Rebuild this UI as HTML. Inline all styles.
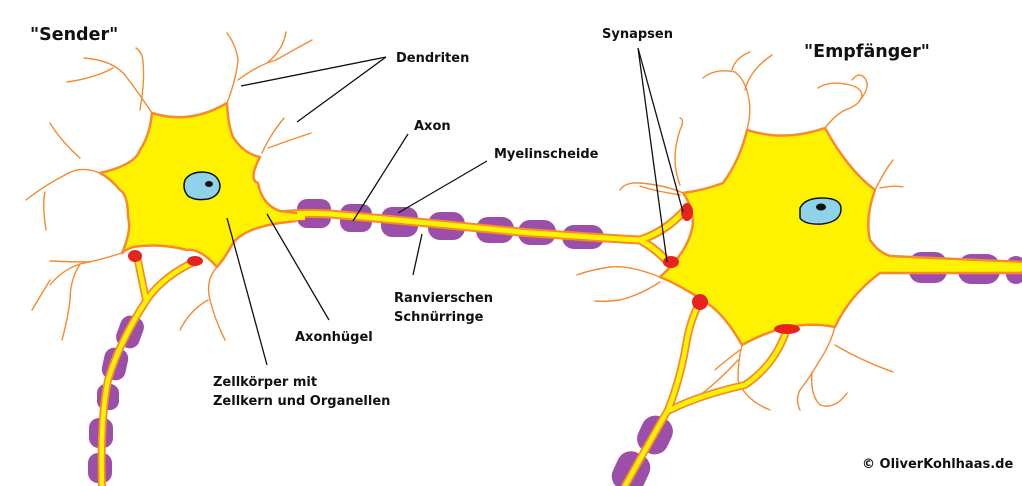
<!DOCTYPE html>
<html><head><meta charset="utf-8"><style>
html,body{margin:0;padding:0;background:#fff;}
svg{display:block}
text{font-family:"DejaVu Sans","Liberation Sans",sans-serif;fill:#111;}
.l{font-size:13px;font-weight:bold;}
.t{font-size:17.5px;font-weight:bold;}
</style></head><body>
<svg width="1022" height="486" viewBox="0 0 1022 486" xmlns="http://www.w3.org/2000/svg">
<g fill="none" stroke="#f58a2e" stroke-width="1.4" stroke-linecap="round">
<path d="M152 113 Q140 95 125 75 Q112 60 84 58"/><path d="M113 68 Q95 78 67 82"/>
<path d="M140 110 Q145 80 143 63 Q143 53 136 48"/>
<path d="M227 103 Q236 80 238 60 Q236 45 227 33"/><path d="M238 80 Q258 65 276 60 Q290 52 312 40"/><path d="M268 62 Q283 50 286 32"/>
<path d="M262 153 Q270 135 284 118"/><path d="M268 148 Q290 140 311 133"/>
<path d="M100 173 Q80 165 65 175 Q45 185 26 200"/><path d="M45 192 Q42 205 46 230"/>
<path d="M50 123 Q60 140 80 158"/>
<path d="M122 253 Q100 260 80 264 Q62 270 50 285"/><path d="M50 280 Q38 300 32 310"/><path d="M80 264 Q70 280 70 300 Q68 318 62 340"/><path d="M90 262 Q70 262 50 261"/>
<path d="M217 267 Q205 280 210 300 Q215 320 225 340"/><path d="M208 300 Q190 310 180 330"/>
<path d="M747 130 Q752 110 748 95 Q745 80 735 72"/><path d="M745 90 Q750 70 772 55"/><path d="M735 72 Q715 68 703 78"/><path d="M732 70 Q735 58 750 52"/>
<path d="M825 128 Q835 115 845 110 Q860 105 862 96 Q862 88 850 85 Q830 80 818 88"/><path d="M860 100 Q870 88 866 80 Q860 70 852 80"/>
<path d="M875 190 Q885 170 893 160"/><path d="M880 188 Q895 185 903 187"/>
<path d="M683 193 Q665 185 640 183 Q625 182 620 190"/><path d="M680 195 Q650 190 640 186"/><path d="M680 185 Q670 160 680 130 Q685 120 680 118"/>
<path d="M660 277 Q630 265 610 267 Q590 270 577 275"/><path d="M660 282 Q640 295 620 300 Q605 302 595 301"/>
<path d="M742 345 Q738 360 738 380 Q745 400 770 410"/><path d="M738 360 Q720 380 700 395"/><path d="M740 350 Q720 365 715 370"/>
<path d="M835 327 Q830 345 820 360 Q808 380 800 390 Q795 400 800 410"/><path d="M835 345 Q860 360 893 372"/><path d="M812 372 Q810 395 820 405 Q835 410 847 393"/>
</g>
<g fill="#9b4fa8">
<rect x="297" y="199" width="34" height="29" rx="10"/><rect x="340" y="204" width="32" height="28" rx="10"/><rect x="381" y="207" width="37" height="30" rx="11"/><rect x="428" y="212" width="37" height="28" rx="12"/><rect x="476" y="217" width="38" height="26" rx="12"/><rect x="518" y="220" width="38" height="25" rx="12"/><rect x="562" y="225" width="42" height="24" rx="12"/>
<rect x="909" y="252" width="38" height="31" rx="12"/><rect x="958" y="254" width="42" height="30" rx="13"/><rect x="1006" y="256" width="20" height="28" rx="10"/>
<rect x="118" y="316" width="24" height="32" rx="10" transform="rotate(20 130 332)"/><rect x="103" y="348" width="24" height="32" rx="10" transform="rotate(12 115 364)"/><rect x="97" y="384" width="22" height="26" rx="9"/><rect x="89" y="418" width="24" height="30" rx="10"/><rect x="88" y="453" width="24" height="30" rx="10"/>
<rect x="639" y="416" width="32" height="38" rx="14" transform="rotate(25 655 435)"/><rect x="614" y="452" width="34" height="40" rx="14" transform="rotate(25 631 472)"/>
</g>
<g fill="none" stroke-linecap="round" stroke-linejoin="round">
<path d="M270 216 Q300 212 330 214 Q420 222 520 232 Q600 238 640 240 Q665 232 685 210 M640 240 Q655 248 668 262" stroke="#f58a2e" stroke-width="9"/>
<path d="M270 216 Q300 212 330 214 Q420 222 520 232 Q600 238 640 240 Q665 232 685 210 M640 240 Q655 248 668 262" stroke="#fff200" stroke-width="5"/>
<path d="M880 262 Q940 266 1022 268" stroke="#f58a2e" stroke-width="11"/>
<path d="M880 262 Q940 266 1022 268" stroke="#fff200" stroke-width="7"/>
<path d="M137 256 Q142 280 146 300 M196 261 Q165 275 148 298 Q120 340 108 380 Q100 420 102 486" stroke="#f58a2e" stroke-width="8"/>
<path d="M137 256 Q142 280 146 300 M196 261 Q165 275 148 298 Q120 340 108 380 Q100 420 102 486" stroke="#fff200" stroke-width="4.5"/>
<path d="M700 302 Q690 320 686 345 Q680 380 668 410 Q645 450 625 486 M787 329 Q775 365 745 385 Q700 395 670 410" stroke="#f58a2e" stroke-width="8"/>
<path d="M700 302 Q690 320 686 345 Q680 380 668 410 Q645 450 625 486 M787 329 Q775 365 745 385 Q700 395 670 410" stroke="#fff200" stroke-width="4.5"/>
</g>
<path d="M152 113 Q190 125 227 103 Q228 125 233 137 Q244 154 260 157 Q248 180 258 183 Q262 205 280 211 L296 213 L296 221 L280 223 Q245 228 233 243 Q225 258 217 267 Q200 248 187 250 Q160 243 133 247 Q125 250 122 253 Q132 230 128 217 Q128 195 120 190 Q110 178 100 173 Q135 165 140 150 Q150 135 152 113 Z" fill="#fff200" stroke="#f58a2e" stroke-width="2.5" stroke-linejoin="round"/>
<path d="M290 214.5 L305 214 L305 220 L290 220.5 Z" fill="#fff200"/>
<path d="M747 130 Q785 142 825 128 Q848 170 875 190 Q865 218 870 240 Q878 252 890 256 L1022 262 L1022 273 L880 273 Q850 295 835 327 Q790 318 742 345 Q725 315 707 303 Q680 285 660 277 Q690 250 693 223 Q692 205 683 193 Q705 190 723 183 Q740 160 747 130 Z" fill="#fff200" stroke="#f58a2e" stroke-width="2.5" stroke-linejoin="round"/>
<path d="M892 258 L1022 263 L1022 271 L882 270 Z" fill="#fff200"/>
<path d="M185 180 Q190 172 203 172 Q218 173 220 185 Q220 196 208 199 Q195 201 188 196 Q182 189 185 180 Z" fill="#8fd3ea" stroke="#111" stroke-width="1.5"/>
<ellipse cx="209" cy="184" rx="4" ry="3" fill="#111"/>
<path d="M800 208 Q805 198 822 198 Q842 198 841 210 Q840 222 822 224 Q805 225 800 218 Z" fill="#8fd3ea" stroke="#111" stroke-width="1.5"/>
<ellipse cx="821" cy="207" rx="5" ry="3.5" fill="#111"/>
<g fill="#e8221f">
<ellipse cx="135" cy="256" rx="7" ry="6"/><ellipse cx="195" cy="261" rx="8" ry="5"/>
<ellipse cx="687" cy="212" rx="6" ry="9"/><ellipse cx="671" cy="262" rx="8" ry="6"/><ellipse cx="700" cy="302" rx="8" ry="8"/><ellipse cx="787" cy="329" rx="13" ry="5"/>
</g>
<g stroke="#111" stroke-width="1.3" fill="none">
<path d="M386 57 L241 86 M386 57 L297 122"/>
<path d="M408 134 L353 221"/>
<path d="M487 161 L398 213"/>
<path d="M422 234 L413 275"/>
<path d="M267 214 L329 320"/>
<path d="M227 218 L267 365"/>
<path d="M638 48 L683 212 M638 48 L667 262"/>
</g>
<text class="t" x="30" y="40">"Sender"</text>
<text class="t" x="804" y="57">"Empfänger"</text>
<text class="l" x="396" y="62">Dendriten</text>
<text class="l" x="414" y="130">Axon</text>
<text class="l" x="494" y="158">Myelinscheide</text>
<text class="l" x="394" y="302">Ranvierschen</text>
<text class="l" x="394" y="321">Schnürringe</text>
<text class="l" x="295" y="341">Axonhügel</text>
<text class="l" x="213" y="386">Zellkörper mit</text>
<text class="l" x="213" y="405">Zellkern und Organellen</text>
<text class="l" x="602" y="38">Synapsen</text>
<text class="l" x="862" y="468">© OliverKohlhaas.de</text>
</svg>
</body></html>
